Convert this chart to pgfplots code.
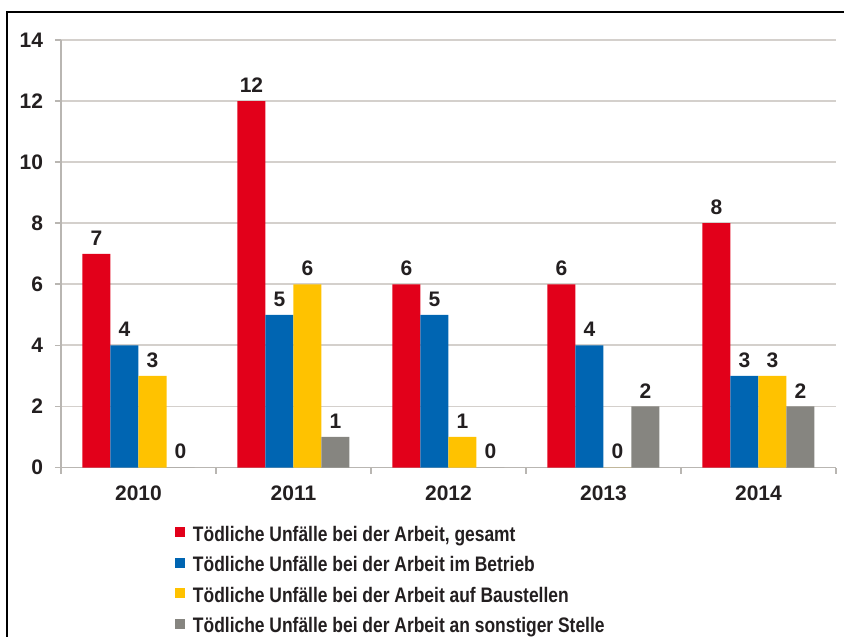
\documentclass[border=0pt]{standalone}
\usepackage{pgfplots}
\pgfplotsset{compat=1.18}
\usepackage{fontspec}
\setmainfont{Liberation Sans}
\newfontfamily\legfont{Liberation Sans}[FakeStretch=0.83]
\definecolor{cred}{RGB}{226,0,26}
\definecolor{cblue}{RGB}{0,101,178}
\definecolor{cyellow}{RGB}{255,194,0}
\definecolor{cgray}{RGB}{134,133,128}
\definecolor{gridc}{RGB}{212,208,204}
\definecolor{axisc}{RGB}{185,182,178}
\definecolor{textc}{RGB}{35,31,32}
\newcommand{\tfont}{\bfseries\fontsize{10.5bp}{12bp}\selectfont}
\newcommand{\lfont}{\legfont\bfseries\fontsize{10.5bp}{12bp}\selectfont}
\begin{document}
\begin{tikzpicture}
\useasboundingbox (-30.5bp,-84.75bp) rectangle (391.5bp,233.75bp);
\draw[line width=0.6bp, black] (-27bp,-84.75bp) -- (-27bp,227.75bp) -- (391.5bp,227.75bp);
\begin{axis}[
  at={(0,0)}, anchor=south west,
  scale only axis, width=387.5bp, height=213.75bp,
  xmin=-0.5, xmax=4.5, ymin=0, ymax=14,
  ybar=0pt, bar width=14bp,
  xtick={0,1,2,3,4}, xticklabels={2010,2011,2012,2013,2014},
  major x tick style={draw=none},
  minor xtick={-0.5,0.5,1.5,2.5,3.5,4.5},
  ytick={0,2,4,6,8,10,12,14},
  axis lines*=left,
  axis line style={axisc, line width=0.8bp},
  tick align=outside, major tick length=3bp, minor tick length=3bp,
  tick style={axisc, line width=0.8bp},
  ymajorgrids, grid style={gridc, line width=0.9bp},
  tick label style={font=\tfont, text=textc},
  xticklabel style={yshift=-2.5bp},
  yticklabel style={xshift=-2.5bp},
  /pgf/number format/assume math mode=true,
  nodes near coords,
  nodes near coords style={font=\tfont, text=textc, inner sep=0pt, anchor=south, yshift=4bp},
  legend style={at={(0.1471,-0.137)}, anchor=north west, draw=none, fill=none,
    inner sep=0pt, outer sep=0pt, row sep=5.25bp, column sep=4bp,
    nodes={inner sep=0pt, text height=7.5bp, text depth=2.5bp, font=\lfont, text=textc}},
  legend cell align=left,
  sq/.style={legend image code/.code={\fill (0bp,-0.7bp) rectangle (5bp,4.3bp);}},
]
\addplot[fill=cred, draw=none, sq] coordinates {(0,7) (1,12) (2,6) (3,6) (4,8)};
\addplot[fill=cblue, draw=none, sq] coordinates {(0,4) (1,5) (2,5) (3,4) (4,3)};
\addplot[fill=cyellow, draw=none, sq] coordinates {(0,3) (1,6) (2,1) (3,0) (4,3)};
\addplot[fill=cgray, draw=none, sq] coordinates {(0,0) (1,1) (2,0) (3,2) (4,2)};
\legend{{Tödliche Unfälle bei der Arbeit, gesamt}, Tödliche Unfälle bei der Arbeit im Betrieb, Tödliche Unfälle bei der Arbeit auf Baustellen, Tödliche Unfälle bei der Arbeit an sonstiger Stelle}
\end{axis}
\end{tikzpicture}
\end{document}
